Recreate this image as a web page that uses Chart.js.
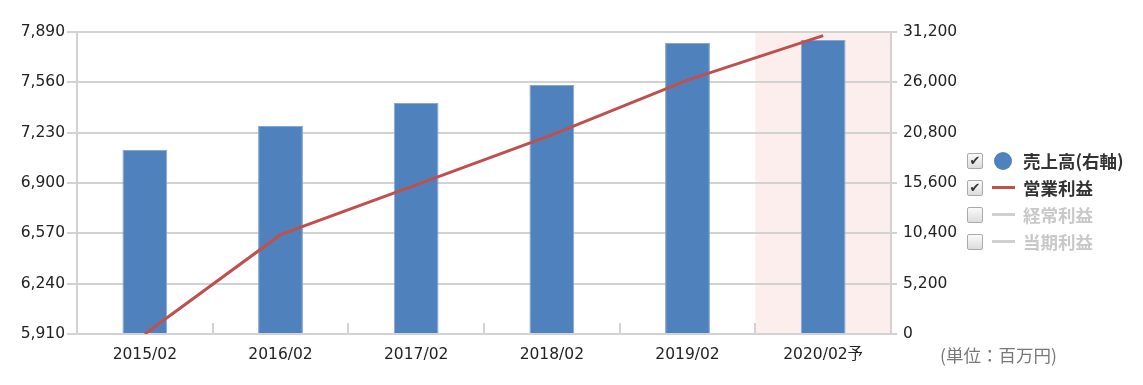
<!DOCTYPE html>
<html lang="ja">
<head>
<meta charset="utf-8">
<script src="https://cdn.jsdelivr.net/npm/chart.js@4/dist/chart.umd.min.js"></script>
<style>
  html, body { margin: 0; padding: 0; background: #fff; }
  #wrap { position: relative; width: 1143px; height: 385px; }
  #chart { position: absolute; left: 0; top: 0; }
  .legend { position: absolute; left: 967px; top: 147px; font-family: "Noto Sans CJK JP", "Noto Sans", sans-serif; }
  .row { height: 27px; display: flex; align-items: center; font-size: 17.5px; font-weight: bold; color: #333; }
  .row.off { color: #c8c8c8; }
  .box { width: 14px; height: 14px; border: 1px solid #aaa; border-radius: 2px; background: linear-gradient(#fafafa, #dcdcdc);
         font-family: "DejaVu Sans", sans-serif; font-size: 13px; line-height: 14px; text-align: center; color: #333; margin-right: 8px; }
  .mark { width: 24px; display: flex; justify-content: center; align-items: center; margin-right: 8px; }
  .dot { width: 18px; height: 18px; border-radius: 50%; }
  .line { width: 23px; height: 3px; }
  .unit { position: absolute; left: 940px; top: 342px; font-family: "Noto Sans CJK JP", sans-serif; font-size: 17.5px; color: #777; }
</style>
</head>
<body>
<div id="wrap">
  <canvas id="chart" width="1143" height="385"></canvas>
  <div class="legend" id="legend"></div>
  <div class="unit">(単位：百万円)</div>
</div>
<script>
// values (百万円)
const categories = ["2015/02", "2016/02", "2017/02", "2018/02", "2019/02", "2020/02予"];
const sales = [19020, 21500, 23870, 25730, 30060, 30370];          // 売上高 (right axis)
const operatingProfit = [5910, 6561, 6888, 7215, 7574, 7866];     // 営業利益 (left axis)
const leftTicks = [5910, 6240, 6570, 6900, 7230, 7560, 7890];
const rightTicks = [0, 5200, 10400, 15600, 20800, 26000, 31200];
const forecastIndex = 5;

const legendItems = [
  { label: "売上高(右軸)", kind: "dot", color: "#4f81bd", on: true },
  { label: "営業利益", kind: "line", color: "#c0504d", on: true },
  { label: "経常利益", kind: "line", color: "#d0d0d0", on: false },
  { label: "当期利益", kind: "line", color: "#d0d0d0", on: false },
];

const gridColor = "#d2d2d2";
const fmt = (v) => Number(v).toLocaleString("en-US");

Chart.defaults.font.family = '"DejaVu Sans", "Noto Sans CJK JP", sans-serif';
Chart.defaults.font.size = 15.5;
Chart.defaults.color = "#222";

// pink band behind the forecast column + short inward ticks on the x axis
const decorPlugin = {
  id: "decor",
  beforeDraw(chart) {
    const { ctx, chartArea, scales } = chart;
    const x = scales.x;
    const half = (x.getPixelForValue(1) - x.getPixelForValue(0)) / 2;
    const cx = x.getPixelForValue(forecastIndex);
    ctx.save();
    ctx.fillStyle = "#fdeeee";
    ctx.fillRect(cx - half, chartArea.top, Math.min(half * 2, chartArea.right - (cx - half)), chartArea.bottom - chartArea.top);
    ctx.restore();
  },
  beforeDatasetsDraw(chart) {
    const { ctx, chartArea, scales } = chart;
    const x = scales.x;
    ctx.save();
    ctx.strokeStyle = gridColor;
    ctx.lineWidth = 2;
    for (let i = 1; i < categories.length; i++) {
      const bx = Math.round((x.getPixelForValue(i - 1) + x.getPixelForValue(i)) / 2);
      ctx.beginPath();
      ctx.moveTo(bx, chartArea.bottom);
      ctx.lineTo(bx, chartArea.bottom - 11);
      ctx.stroke();
    }
    ctx.restore();
  },
};

const chart = new Chart(document.getElementById("chart").getContext("2d"), {
  type: "bar",
  data: {
    labels: categories,
    datasets: [
      {
        type: "line",
        label: "営業利益",
        data: operatingProfit,
        yAxisID: "y",
        borderColor: "#c0504d",
        borderWidth: 3,
        pointRadius: 0,
        tension: 0,
        order: 0,
      },
      {
        label: "売上高(右軸)",
        data: sales,
        yAxisID: "y1",
        backgroundColor: "#4f81bd",
        borderColor: "#86a7d4",
        borderWidth: 1,
        categoryPercentage: 1,
        barPercentage: 0.33,
        order: 1,
      },
    ],
  },
  options: {
    responsive: false,
    animation: false,
    layout: { padding: { top: 32, left: 0, right: 0, bottom: 0 } },
    plugins: { legend: { display: false }, tooltip: { enabled: false } },
    scales: {
      x: {
        offset: true,
        grid: { display: false, drawTicks: false },
        border: { display: true, color: gridColor, width: 2 },
        ticks: { padding: 12, color: "#222" },
        afterFit(scale) { scale.height = 51; },
      },
      y: {
        position: "left",
        min: leftTicks[0],
        max: leftTicks[leftTicks.length - 1],
        afterBuildTicks(scale) { scale.ticks = leftTicks.map((v) => ({ value: v })); },
        grid: { color: gridColor, lineWidth: 2, tickLength: 10 },
        border: { display: true, color: gridColor, width: 2 },
        ticks: { padding: 2, color: "#222", callback: fmt },
        afterFit(scale) { scale.width = 77; },
      },
      y1: {
        position: "right",
        min: rightTicks[0],
        max: rightTicks[rightTicks.length - 1],
        afterBuildTicks(scale) { scale.ticks = rightTicks.map((v) => ({ value: v })); },
        grid: { drawOnChartArea: false, color: gridColor, lineWidth: 2, tickLength: 6 },
        border: { display: true, color: gridColor, width: 2 },
        ticks: { padding: 6, color: "#222", callback: fmt },
        afterFit(scale) { scale.width = 252; },
      },
    },
  },
  plugins: [decorPlugin],
});

// legend with check boxes, as in the original page
const legendEl = document.getElementById("legend");
legendItems.forEach((item) => {
  const row = document.createElement("div");
  row.className = "row" + (item.on ? "" : " off");
  const box = document.createElement("span");
  box.className = "box";
  box.textContent = item.on ? "✔" : "";
  const mark = document.createElement("span");
  mark.className = "mark";
  const sym = document.createElement("span");
  sym.className = item.kind;
  sym.style.background = item.color;
  mark.appendChild(sym);
  const text = document.createElement("span");
  text.textContent = item.label;
  row.append(box, mark, text);
  legendEl.appendChild(row);
});
</script>
</body>
</html>
